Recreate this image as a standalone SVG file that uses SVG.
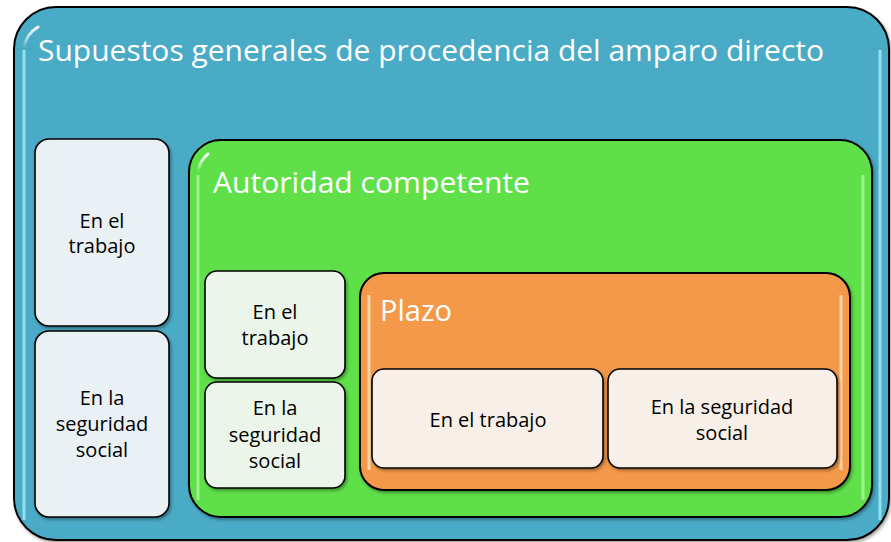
<svg xmlns="http://www.w3.org/2000/svg" width="891" height="542" viewBox="0 0 891 542">
<defs>
<filter id="sh" x="-10%" y="-10%" width="120%" height="120%">
<feDropShadow dx="1.5" dy="2" stdDeviation="1.5" flood-color="#000" flood-opacity="0.35"/>
</filter>
<linearGradient id="glossV" x1="0" y1="0" x2="0" y2="1">
<stop offset="0" stop-color="#fff" stop-opacity="0.95"/>
<stop offset="0.6" stop-color="#fff" stop-opacity="0.5"/>
<stop offset="1" stop-color="#fff" stop-opacity="0"/>
</linearGradient>
</defs>
<style>
.box{stroke:#000;stroke-width:2;filter:url(#sh)}
.outer{fill:#4AABC5}
.green{fill:#5EE04A}
.orange{fill:#F4994A}
.lb{fill:#E9F1F4;stroke-width:1.6}
.lg{fill:#EBF5E9;stroke-width:1.6}
.lo{fill:#F8EFE8;stroke-width:1.6}
.hl{fill:none;stroke:url(#glossV);stroke-width:3;stroke-linecap:round}
.ttl{font-family:"Open Sans","Noto Sans",sans-serif;font-size:29px;fill:#fff}
.lbl{font-family:"Open Sans","Noto Sans",sans-serif;font-size:20px;fill:#000;text-anchor:middle}
</style>
<g id="outer">
<rect class="box outer" x="14" y="7" width="875" height="533" rx="42" ry="42"/>
<path class="hl" d="M24 48 Q26 34 38 27"/>
<line x1="24" y1="50" x2="24" y2="520" stroke="#A9EEFA" stroke-width="3" opacity="0.8"/>
<line x1="880" y1="50" x2="880" y2="520" stroke="#A9EEFA" stroke-width="3" opacity="0.8"/>
<text class="ttl" x="38" y="61" textLength="786" lengthAdjust="spacingAndGlyphs">Supuestos generales de procedencia del amparo directo</text>
</g>
<g id="n-trabajo-1">
<rect class="box lb" x="35" y="139" width="134" height="187" rx="14" ry="14"/>
<text class="lbl" x="102" y="228">En el</text>
<text class="lbl" x="102" y="253">trabajo</text>
</g>
<g id="n-seguridad-1">
<rect class="box lb" x="35" y="331" width="134" height="186" rx="14" ry="14"/>
<text class="lbl" x="102" y="405">En la</text>
<text class="lbl" x="102" y="431">seguridad</text>
<text class="lbl" x="102" y="457">social</text>
</g>
<g id="autoridad">
<rect class="box green" x="189" y="140" width="683" height="377" rx="32" ry="32"/>
<path class="hl" d="M198 172 Q200 160 208 154"/>
<line x1="198" y1="175" x2="198" y2="500" stroke="#C8FFB8" stroke-width="3" opacity="0.6"/>
<line x1="863" y1="175" x2="863" y2="500" stroke="#C8FFB8" stroke-width="3" opacity="0.6"/>
<text class="ttl" x="213" y="193" textLength="317" lengthAdjust="spacingAndGlyphs">Autoridad competente</text>
</g>
<g id="n-trabajo-2">
<rect class="box lg" x="205" y="271" width="140" height="107" rx="12" ry="12"/>
<text class="lbl" x="275" y="319">En el</text>
<text class="lbl" x="275" y="345">trabajo</text>
</g>
<g id="n-seguridad-2">
<rect class="box lg" x="205" y="382" width="140" height="106" rx="12" ry="12"/>
<text class="lbl" x="275" y="415">En la</text>
<text class="lbl" x="275" y="442">seguridad</text>
<text class="lbl" x="275" y="468">social</text>
</g>
<g id="plazo">
<rect class="box orange" x="360" y="273" width="490" height="217" rx="24" ry="24"/>
<line x1="369" y1="295" x2="369" y2="470" stroke="#FFE2B8" stroke-width="3" opacity="0.8"/>
<line x1="841" y1="295" x2="841" y2="470" stroke="#FFE2B8" stroke-width="3" opacity="0.8"/>
<text class="ttl" x="380" y="321" textLength="72" lengthAdjust="spacingAndGlyphs">Plazo</text>
</g>
<g id="n-trabajo-3">
<rect class="box lo" x="372" y="369" width="231" height="99" rx="12" ry="12"/>
<text class="lbl" x="488" y="427">En el trabajo</text>
</g>
<g id="n-seguridad-3">
<rect class="box lo" x="608" y="369" width="229" height="99" rx="12" ry="12"/>
<text class="lbl" x="722" y="414">En la seguridad</text>
<text class="lbl" x="722" y="440">social</text>
</g>
<g id="connectors"/>
</svg>
